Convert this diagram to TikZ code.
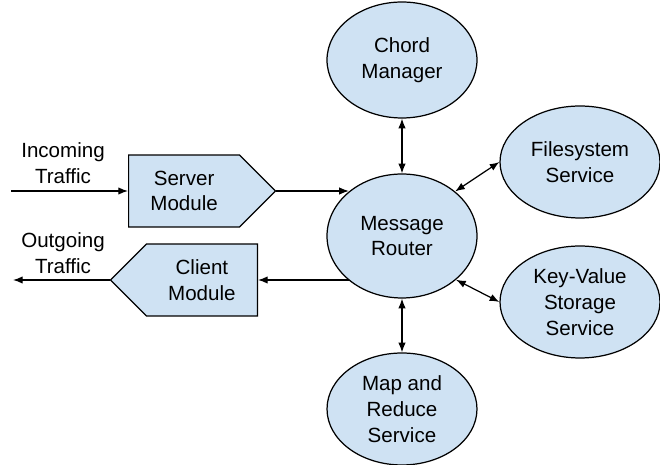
\documentclass[tikz,border=0pt]{standalone}
\usepackage{fontspec}
\setmainfont{Liberation Sans}
\usepackage{xcolor}
\usetikzlibrary{
    arrows.meta,
    shapes,
    shapes.geometric,
    shapes.symbols,
    positioning,
    calc
}
\definecolor{nodeblue}{HTML}{CFE2F3}

\begin{document}
\begin{tikzpicture}[>={Latex[length=5.5pt,width=4.2pt]}, x = .02cm, y = -.02cm, line width = .7pt,
        service/.style={
            % The shape:
            ellipse,
            % The size:
            minimum width=3cm, minimum height=2.24cm, inner sep=0pt,
            % The border
            draw=black,
            % The filling
            fill=nodeblue, align=center},
        module/.style={
            % The shape:
            signal, signal pointer angle=90,
            % The size:
            minimum width=2.94cm, minimum height=1.44cm, inner sep=0pt,
            % The border
            draw=black,
            % The filling
            fill=nodeblue, align=center},
        txt/.style={align=center}]
        \useasboundingbox (0,0) rectangle (660,465);
        \fontsize{11.7}{14.7}\selectfont

        \node [service, minimum height=2.32cm] (chord) at (402,60) {Chord\\Manager};
        \node [service, minimum height=2.48cm] (router) at (402,236) {Message\\Router};
        \node [service, minimum width=3.2cm] (files) at (580,162) {Filesystem\\Service};
        \node [service, minimum width=3.2cm] (kv) at (580,302) {Key-Value\\Storage\\Service};
        \node [service] (mapred) at (402,409) {Map and\\Reduce\\Service};

        \node [module, signal to=east, anchor=west] (server) at (128,191) {Server\\Module};
        \node [module, signal to=west, anchor=east] (client) at (258,280) {Client\\Module};

        \coordinate (in) at (11,191);
        \coordinate (out) at (13,280);
        \node [txt] (intxt) at (63,163) {Incoming\\Traffic};
        \node [txt] (outtxt) at (63,253) {Outgoing\\Traffic};

        \draw [->] (in) -- (server.west);
        \draw [->] (client.west) -- (out);
        \draw [->] (server.east) -- (server.east -| router.140);
        \draw [->] (router.220 |- client.east) -- (client.east);

        \draw [<->] (chord) -- (router);
        \draw [<->] (router.40) -- (files.west);
        \draw [<->] (router.-39) -- (kv.west);
        \draw [<->] (router) -- (mapred);
\end{tikzpicture}
\end{document}
